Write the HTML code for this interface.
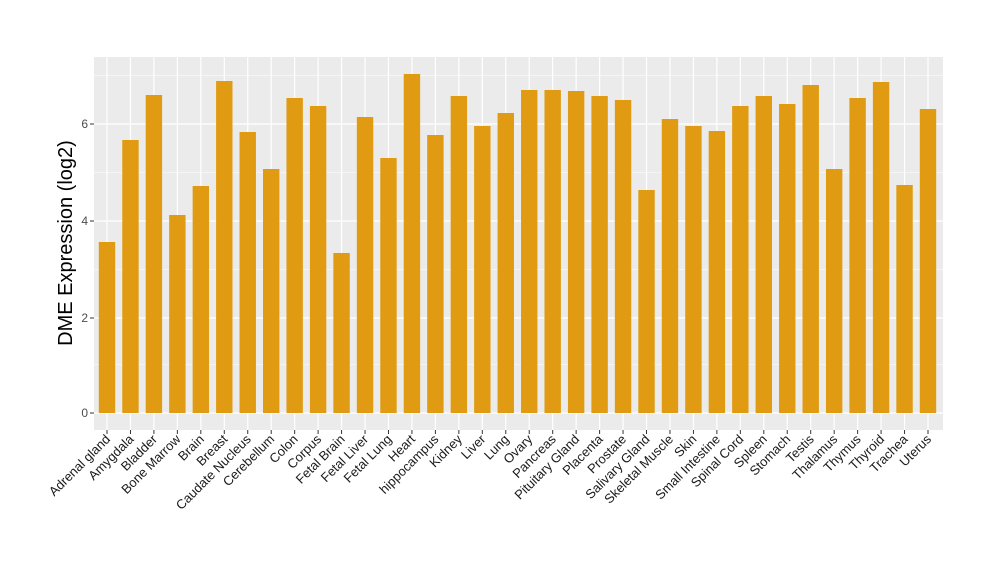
<!DOCTYPE html>
<html><head><meta charset="utf-8"><style>body{margin:0;background:#fff}svg{display:block}</style></head>
<body>
<svg width="1000" height="580" xmlns="http://www.w3.org/2000/svg" font-family="Liberation Sans, Arial, sans-serif">
<rect x="0" y="0" width="1000" height="580" fill="#fff"/>
<rect x="94" y="57" width="849" height="373" fill="#EBEBEB"/>
<g stroke="#fff">
<line x1="94" x2="943" y1="364.5" y2="364.5" stroke-width="0.6"/>
<line x1="94" x2="943" y1="269.5" y2="269.5" stroke-width="0.6"/>
<line x1="94" x2="943" y1="172.5" y2="172.5" stroke-width="0.6"/>
<line x1="94" x2="943" y1="75.5" y2="75.5" stroke-width="0.6"/>
<line x1="94" x2="943" y1="413" y2="413" stroke-width="1.2"/>
<line x1="94" x2="943" y1="318" y2="318" stroke-width="1.2"/>
<line x1="94" x2="943" y1="221" y2="221" stroke-width="1.2"/>
<line x1="94" x2="943" y1="124" y2="124" stroke-width="1.2"/>
<line x1="107" x2="107" y1="57" y2="430" stroke-width="1.2"/><line x1="130.46" x2="130.46" y1="57" y2="430" stroke-width="1.2"/><line x1="153.91" x2="153.91" y1="57" y2="430" stroke-width="1.2"/><line x1="177.37" x2="177.37" y1="57" y2="430" stroke-width="1.2"/><line x1="200.83" x2="200.83" y1="57" y2="430" stroke-width="1.2"/><line x1="224.29" x2="224.29" y1="57" y2="430" stroke-width="1.2"/><line x1="247.74" x2="247.74" y1="57" y2="430" stroke-width="1.2"/><line x1="271.2" x2="271.2" y1="57" y2="430" stroke-width="1.2"/><line x1="294.66" x2="294.66" y1="57" y2="430" stroke-width="1.2"/><line x1="318.11" x2="318.11" y1="57" y2="430" stroke-width="1.2"/><line x1="341.57" x2="341.57" y1="57" y2="430" stroke-width="1.2"/><line x1="365.03" x2="365.03" y1="57" y2="430" stroke-width="1.2"/><line x1="388.48" x2="388.48" y1="57" y2="430" stroke-width="1.2"/><line x1="411.94" x2="411.94" y1="57" y2="430" stroke-width="1.2"/><line x1="435.4" x2="435.4" y1="57" y2="430" stroke-width="1.2"/><line x1="458.86" x2="458.86" y1="57" y2="430" stroke-width="1.2"/><line x1="482.31" x2="482.31" y1="57" y2="430" stroke-width="1.2"/><line x1="505.77" x2="505.77" y1="57" y2="430" stroke-width="1.2"/><line x1="529.23" x2="529.23" y1="57" y2="430" stroke-width="1.2"/><line x1="552.68" x2="552.68" y1="57" y2="430" stroke-width="1.2"/><line x1="576.14" x2="576.14" y1="57" y2="430" stroke-width="1.2"/><line x1="599.6" x2="599.6" y1="57" y2="430" stroke-width="1.2"/><line x1="623.05" x2="623.05" y1="57" y2="430" stroke-width="1.2"/><line x1="646.51" x2="646.51" y1="57" y2="430" stroke-width="1.2"/><line x1="669.97" x2="669.97" y1="57" y2="430" stroke-width="1.2"/><line x1="693.43" x2="693.43" y1="57" y2="430" stroke-width="1.2"/><line x1="716.88" x2="716.88" y1="57" y2="430" stroke-width="1.2"/><line x1="740.34" x2="740.34" y1="57" y2="430" stroke-width="1.2"/><line x1="763.8" x2="763.8" y1="57" y2="430" stroke-width="1.2"/><line x1="787.25" x2="787.25" y1="57" y2="430" stroke-width="1.2"/><line x1="810.71" x2="810.71" y1="57" y2="430" stroke-width="1.2"/><line x1="834.17" x2="834.17" y1="57" y2="430" stroke-width="1.2"/><line x1="857.62" x2="857.62" y1="57" y2="430" stroke-width="1.2"/><line x1="881.08" x2="881.08" y1="57" y2="430" stroke-width="1.2"/><line x1="904.54" x2="904.54" y1="57" y2="430" stroke-width="1.2"/><line x1="928" x2="928" y1="57" y2="430" stroke-width="1.2"/>
</g>
<g fill="#E09B12">
<rect x="98.8" y="242" width="16.4" height="171"/>
<rect x="122.26" y="140" width="16.4" height="273"/>
<rect x="145.71" y="95" width="16.4" height="318"/>
<rect x="169.17" y="215" width="16.4" height="198"/>
<rect x="192.63" y="186" width="16.4" height="227"/>
<rect x="216.09" y="81" width="16.4" height="332"/>
<rect x="239.54" y="132" width="16.4" height="281"/>
<rect x="263" y="169" width="16.4" height="244"/>
<rect x="286.46" y="98" width="16.4" height="315"/>
<rect x="309.91" y="106" width="16.4" height="307"/>
<rect x="333.37" y="253" width="16.4" height="160"/>
<rect x="356.83" y="117" width="16.4" height="296"/>
<rect x="380.28" y="158" width="16.4" height="255"/>
<rect x="403.74" y="74" width="16.4" height="339"/>
<rect x="427.2" y="135" width="16.4" height="278"/>
<rect x="450.66" y="96" width="16.4" height="317"/>
<rect x="474.11" y="126" width="16.4" height="287"/>
<rect x="497.57" y="113" width="16.4" height="300"/>
<rect x="521.03" y="90" width="16.4" height="323"/>
<rect x="544.48" y="90" width="16.4" height="323"/>
<rect x="567.94" y="91" width="16.4" height="322"/>
<rect x="591.4" y="96" width="16.4" height="317"/>
<rect x="614.85" y="100" width="16.4" height="313"/>
<rect x="638.31" y="190" width="16.4" height="223"/>
<rect x="661.77" y="119" width="16.4" height="294"/>
<rect x="685.23" y="126" width="16.4" height="287"/>
<rect x="708.68" y="131" width="16.4" height="282"/>
<rect x="732.14" y="106" width="16.4" height="307"/>
<rect x="755.6" y="96" width="16.4" height="317"/>
<rect x="779.05" y="104" width="16.4" height="309"/>
<rect x="802.51" y="85" width="16.4" height="328"/>
<rect x="825.97" y="169" width="16.4" height="244"/>
<rect x="849.42" y="98" width="16.4" height="315"/>
<rect x="872.88" y="82" width="16.4" height="331"/>
<rect x="896.34" y="185" width="16.4" height="228"/>
<rect x="919.8" y="109" width="16.4" height="304"/>
</g>
<g stroke="#333" stroke-width="1">
<line x1="107" x2="107" y1="430" y2="434"/><line x1="130.46" x2="130.46" y1="430" y2="434"/><line x1="153.91" x2="153.91" y1="430" y2="434"/><line x1="177.37" x2="177.37" y1="430" y2="434"/><line x1="200.83" x2="200.83" y1="430" y2="434"/><line x1="224.29" x2="224.29" y1="430" y2="434"/><line x1="247.74" x2="247.74" y1="430" y2="434"/><line x1="271.2" x2="271.2" y1="430" y2="434"/><line x1="294.66" x2="294.66" y1="430" y2="434"/><line x1="318.11" x2="318.11" y1="430" y2="434"/><line x1="341.57" x2="341.57" y1="430" y2="434"/><line x1="365.03" x2="365.03" y1="430" y2="434"/><line x1="388.48" x2="388.48" y1="430" y2="434"/><line x1="411.94" x2="411.94" y1="430" y2="434"/><line x1="435.4" x2="435.4" y1="430" y2="434"/><line x1="458.86" x2="458.86" y1="430" y2="434"/><line x1="482.31" x2="482.31" y1="430" y2="434"/><line x1="505.77" x2="505.77" y1="430" y2="434"/><line x1="529.23" x2="529.23" y1="430" y2="434"/><line x1="552.68" x2="552.68" y1="430" y2="434"/><line x1="576.14" x2="576.14" y1="430" y2="434"/><line x1="599.6" x2="599.6" y1="430" y2="434"/><line x1="623.05" x2="623.05" y1="430" y2="434"/><line x1="646.51" x2="646.51" y1="430" y2="434"/><line x1="669.97" x2="669.97" y1="430" y2="434"/><line x1="693.43" x2="693.43" y1="430" y2="434"/><line x1="716.88" x2="716.88" y1="430" y2="434"/><line x1="740.34" x2="740.34" y1="430" y2="434"/><line x1="763.8" x2="763.8" y1="430" y2="434"/><line x1="787.25" x2="787.25" y1="430" y2="434"/><line x1="810.71" x2="810.71" y1="430" y2="434"/><line x1="834.17" x2="834.17" y1="430" y2="434"/><line x1="857.62" x2="857.62" y1="430" y2="434"/><line x1="881.08" x2="881.08" y1="430" y2="434"/><line x1="904.54" x2="904.54" y1="430" y2="434"/><line x1="928" x2="928" y1="430" y2="434"/>
<line x1="90" x2="94" y1="413" y2="413"/><line x1="90" x2="94" y1="318" y2="318"/>
<line x1="90" x2="94" y1="221" y2="221"/><line x1="90" x2="94" y1="124" y2="124"/>
</g>
<g font-size="13" fill="#1a1a1a" text-anchor="end">
<text transform="translate(111,440) rotate(-45)">Adrenal gland</text>
<text transform="translate(134.46,440) rotate(-45)">Amygdala</text>
<text transform="translate(157.91,440) rotate(-45)">Bladder</text>
<text transform="translate(181.37,440) rotate(-45)">Bone Marrow</text>
<text transform="translate(204.83,440) rotate(-45)">Brain</text>
<text transform="translate(228.29,440) rotate(-45)">Breast</text>
<text transform="translate(251.74,440) rotate(-45)">Caudate Nucleus</text>
<text transform="translate(275.2,440) rotate(-45)">Cerebellum</text>
<text transform="translate(298.66,440) rotate(-45)">Colon</text>
<text transform="translate(322.11,440) rotate(-45)">Corpus</text>
<text transform="translate(345.57,440) rotate(-45)">Fetal Brain</text>
<text transform="translate(369.03,440) rotate(-45)">Fetal Liver</text>
<text transform="translate(392.48,440) rotate(-45)">Fetal Lung</text>
<text transform="translate(415.94,440) rotate(-45)">Heart</text>
<text transform="translate(439.4,440) rotate(-45)">hippocampus</text>
<text transform="translate(462.86,440) rotate(-45)">Kidney</text>
<text transform="translate(486.31,440) rotate(-45)">Liver</text>
<text transform="translate(509.77,440) rotate(-45)">Lung</text>
<text transform="translate(533.23,440) rotate(-45)">Ovary</text>
<text transform="translate(556.68,440) rotate(-45)">Pancreas</text>
<text transform="translate(580.14,440) rotate(-45)">Pituitary Gland</text>
<text transform="translate(603.6,440) rotate(-45)">Placenta</text>
<text transform="translate(627.05,440) rotate(-45)">Prostate</text>
<text transform="translate(650.51,440) rotate(-45)">Salivary Gland</text>
<text transform="translate(673.97,440) rotate(-45)">Skeletal Muscle</text>
<text transform="translate(697.43,440) rotate(-45)">Skin</text>
<text transform="translate(720.88,440) rotate(-45)">Small Intestine</text>
<text transform="translate(744.34,440) rotate(-45)">Spinal Cord</text>
<text transform="translate(767.8,440) rotate(-45)">Spleen</text>
<text transform="translate(791.25,440) rotate(-45)">Stomach</text>
<text transform="translate(814.71,440) rotate(-45)">Testis</text>
<text transform="translate(838.17,440) rotate(-45)">Thalamus</text>
<text transform="translate(861.62,440) rotate(-45)">Thymus</text>
<text transform="translate(885.08,440) rotate(-45)">Thyroid</text>
<text transform="translate(908.54,440) rotate(-45)">Trachea</text>
<text transform="translate(932,440) rotate(-45)">Uterus</text>
</g>
<g font-size="12" fill="#4D4D4D" text-anchor="end">
<text x="88" y="417">0</text><text x="88" y="322">2</text><text x="88" y="225">4</text><text x="88" y="128">6</text>
</g>
<text transform="translate(72,243) rotate(-90)" text-anchor="middle" font-size="20" fill="#000">DME Expression (log2)</text>
</svg>
</body></html>
